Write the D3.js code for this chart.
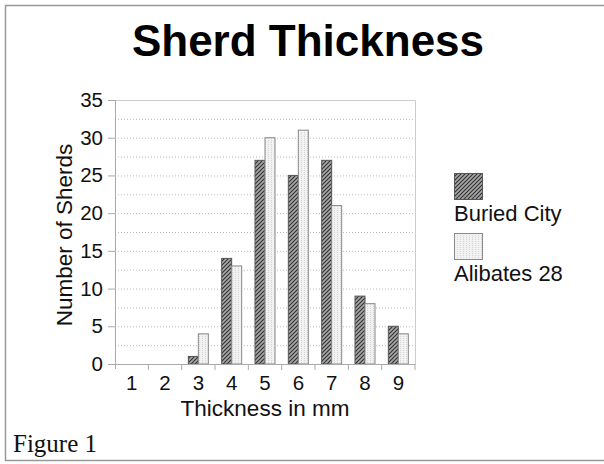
<!DOCTYPE html>
<html>
<head>
<meta charset="utf-8">
<script src="https://cdn.jsdelivr.net/npm/d3@7"></script>
<style>
  body { margin: 0; background: #fff; }
  #c { width: 604px; height: 464px; }
</style>
</head>
<body>
<div id="c"></div>
<script>
"use strict";

const categories = ["1", "2", "3", "4", "5", "6", "7", "8", "9"]
const buriedCity = [0, 0, 1, 14, 27, 25, 27, 9, 5]
const alibates = [0, 0, 4, 13, 30, 31, 21, 8, 4]
const yTicks = [0, 5, 10, 15, 20, 25, 30, 35]
const gridValues = d3.range(2.5, 35, 2.5)
const seriesNames = ["Buried City", "Alibates 28"]

window.onload = function() {
    drawChart()
}

function drawChart() {
    const width = 604, height = 464
    const margin = {top: 100, right: 189, bottom: 100, left: 115}
    const plotW = width - margin.left - margin.right
    const plotH = 364 - margin.top
    const font = 'Liberation Sans, Arial, sans-serif'

    let svg = d3.select('#c').append('svg')
        .attr('width', width).attr('height', height)

    // patterns
    let defs = svg.append('defs')
    let hatch = defs.append('pattern')
        .attr('id', 'hatch')
        .attr('patternUnits', 'userSpaceOnUse')
        .attr('width', 4).attr('height', 4)
    hatch.append('rect').attr('width', 4).attr('height', 4).attr('fill', '#a8a8a8')
    hatch.append('path')
        .attr('d', 'M-1,1 l2,-2 M0,4 l4,-4 M3,5 l2,-2')
        .attr('stroke', '#333').attr('stroke-width', 1.2)

    let dots = defs.append('pattern')
        .attr('id', 'dots')
        .attr('patternUnits', 'userSpaceOnUse')
        .attr('width', 3).attr('height', 2)
    dots.append('rect').attr('width', 3).attr('height', 2).attr('fill', '#f2f2f2')
    dots.append('rect').attr('width', 1).attr('height', 1).attr('fill', '#d4d4d4')

    // outer frame
    svg.append('path')
        .attr('d', 'M604,5.5 H5.5 V460.5 H604')
        .attr('fill', 'none').attr('stroke', '#999').attr('stroke-width', 1.5)

    svg.append('text')
        .attr('x', 308).attr('y', 56)
        .attr('text-anchor', 'middle')
        .style('font-family', font)
        .style('font-weight', 'bold').style('font-size', '44px')
        .text('Sherd Thickness')

    let g = svg.append('g')
        .attr('transform', 'translate(' + margin.left + ',' + margin.top + ')')

    let xScale = d3.scaleBand().domain(categories).range([0, plotW])
    let yScale = d3.scaleLinear().domain([0, 35]).range([plotH, 0])

    // gridlines
    g.append('g').selectAll('line')
        .data(gridValues).enter().append('line')
        .attr('x1', 0).attr('x2', plotW)
        .attr('y1', d => yScale(d) + 0.5).attr('y2', d => yScale(d) + 0.5)
        .attr('stroke', '#bbb').attr('stroke-dasharray', '1,2')

    // plot border top/right
    g.append('path')
        .attr('d', 'M0,' + (yScale(35) + 0.5) + ' H' + (plotW + 0.5) + ' V' + plotH)
        .attr('fill', 'none').attr('stroke', '#ccc')

    // bars
    const barW = 10
    const series = [
        {values: buriedCity, fill: 'url(#hatch)', stroke: '#555'},
        {values: alibates, fill: 'url(#dots)', stroke: '#888'}
    ]
    series.forEach((s, si) => {
        g.append('g').selectAll('rect')
            .data(s.values).enter().append('rect')
            .attr('x', (d, i) => xScale(categories[i]) + xScale.bandwidth() / 2 - barW + si * barW)
            .attr('y', d => yScale(d))
            .attr('width', barW)
            .attr('height', d => plotH - yScale(d))
            .attr('fill', s.fill)
            .attr('stroke', s.stroke).attr('stroke-width', 1)
    })

    // y axis
    let yAxis = g.append('g')
        .call(d3.axisLeft(yScale).tickValues(yTicks).tickSize(7).tickPadding(5))
    yAxis.select('.domain').attr('stroke', '#aaa').attr('d', 'M0.5,0 V' + (plotH + 5))
    yAxis.selectAll('.tick line').attr('stroke', '#aaa')
    yAxis.selectAll('text')
        .style('font-family', font)
        .style('font-size', '20.5px').attr('fill', '#111')

    // x axis
    let xAxis = g.append('g')
        .attr('transform', 'translate(0,' + plotH + ')')
        .call(d3.axisBottom(xScale).tickSize(0).tickPadding(11))
    xAxis.select('.domain').attr('stroke', '#aaa')
    xAxis.selectAll('text')
        .style('font-family', font)
        .style('font-size', '20.5px').attr('fill', '#111')
    xAxis.append('g').selectAll('line')
        .data(categories.slice(1).concat(['end'])).enter().append('line')
        .attr('x1', (d, i) => i < categories.length - 1 ? xScale(d) : plotW)
        .attr('x2', (d, i) => i < categories.length - 1 ? xScale(d) : plotW)
        .attr('y1', 0).attr('y2', 6)
        .attr('stroke', '#aaa')

    // axis titles
    svg.append('text')
        .attr('x', 265).attr('y', 416)
        .attr('text-anchor', 'middle')
        .style('font-family', font)
        .style('font-size', '22.5px').attr('fill', '#111')
        .text('Thickness in mm')
    svg.append('text')
        .attr('transform', 'translate(72,235) rotate(-90)')
        .attr('text-anchor', 'middle')
        .style('font-family', font)
        .style('font-size', '22.5px').attr('fill', '#111')
        .text('Number of Sherds')

    // legend
    let legend = svg.append('g').attr('transform', 'translate(454,173)')
    series.forEach((s, i) => {
        let item = legend.append('g').attr('transform', 'translate(0,' + i * 60 + ')')
        item.append('rect')
            .attr('x', 0.5).attr('y', 0.5)
            .attr('width', 28).attr('height', 26)
            .attr('fill', s.fill).attr('stroke', s.stroke)
        item.append('text')
            .attr('x', 0).attr('y', 48)
            .style('font-family', font)
            .style('font-size', '22px').attr('fill', '#111')
            .text(seriesNames[i])
    })

    svg.append('text')
        .attr('x', 13).attr('y', 452)
        .style('font-family', 'Liberation Serif, Times New Roman, serif')
        .style('font-size', '25px').attr('fill', '#111')
        .text('Figure 1')
}
</script>
</body>
</html>
